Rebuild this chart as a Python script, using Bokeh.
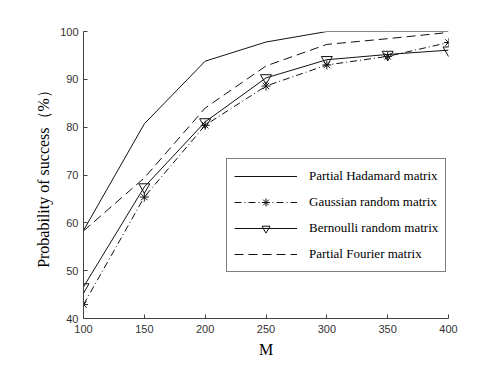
from bokeh.plotting import figure
from bokeh.models import Legend, LegendItem, Range1d, FixedTicker
from bokeh.embed import file_html
from bokeh.resources import INLINE

M = [100, 150, 200, 250, 300, 350, 400]
hadamard = [58.4, 80.7, 93.8, 97.8, 100.0, 100.0, 100.0]
gaussian = [42.9, 65.4, 80.4, 88.6, 93.0, 94.8, 97.7]
bernoulli = [46.6, 67.5, 81.1, 90.3, 94.1, 95.2, 96.1]
fourier = [58.3, 69.4, 84.0, 92.8, 97.3, 98.5, 99.8]
xticks = [100, 150, 200, 250, 300, 350, 400]
yticks = [40, 50, 60, 70, 80, 90, 100]

p = figure(width=495, height=362, output_backend="svg", toolbar_location=None,
           x_range=Range1d(100, 400), y_range=Range1d(40, 100),
           min_border_left=83, min_border_right=47, min_border_top=31, min_border_bottom=44)
p.outline_line_color = None
p.xgrid.visible = False
p.ygrid.visible = False
p.background_fill_color = "white"
p.border_fill_color = "white"

for ax in (p.xaxis, p.yaxis):
    ax.axis_line_color = "#404040"
    ax.major_tick_line_color = "#404040"
    ax.major_tick_in = 4
    ax.major_tick_out = 0
    ax.minor_tick_line_color = None
    ax.major_label_text_font = "Liberation Sans"
    ax.major_label_text_font_size = "11px"
    ax.major_label_text_color = "#333333"
    ax.axis_label_text_font = "Liberation Serif"
    ax.axis_label_text_font_size = "16px"
    ax.axis_label_text_font_style = "normal"
    ax.axis_label_text_color = "black"
p.xaxis.ticker = FixedTicker(ticks=xticks)
p.yaxis.ticker = FixedTicker(ticks=yticks)
p.xaxis.axis_label = "M"
p.yaxis.axis_label = "Probability of success（%）"
p.xaxis.major_label_standoff = 6
p.yaxis.major_label_standoff = 5

lc = "#111111"
r1 = p.line(M, hadamard, line_color=lc, line_width=1)
r2 = p.line(M, gaussian, line_color=lc, line_width=1, line_dash="7 3 1 3")
r2m = p.scatter(M, gaussian, marker="asterisk", size=9, line_color=lc, line_width=1)
r3 = p.line(M, bernoulli, line_color=lc, line_width=1)
r3m = p.scatter(M, bernoulli, marker="inverted_triangle", size=11, line_color=lc,
                fill_color=None, line_width=1)
r4 = p.line(M, fourier, line_color=lc, line_width=1, line_dash="9 5")

legend = Legend(items=[
    LegendItem(label="Partial Hadamard matrix", renderers=[r1]),
    LegendItem(label="Gaussian random matrix", renderers=[r2, r2m]),
    LegendItem(label="Bernoulli random matrix", renderers=[r3, r3m]),
    LegendItem(label="Partial Fourier matrix", renderers=[r4]),
], location=(143, 46))
legend.label_text_font = "Liberation Serif"
legend.label_text_font_size = "13px"
legend.label_text_color = "black"
legend.border_line_color = "black"
legend.border_line_width = 1
legend.background_fill_alpha = 1
legend.glyph_width = 63
legend.glyph_height = 20
legend.label_height = 20
legend.label_width = 125
legend.spacing = 6
legend.padding = 7
legend.label_standoff = 12
legend.margin = 0
p.add_layout(legend, "center")

open("out.html", "w").write(file_html(p, INLINE))
